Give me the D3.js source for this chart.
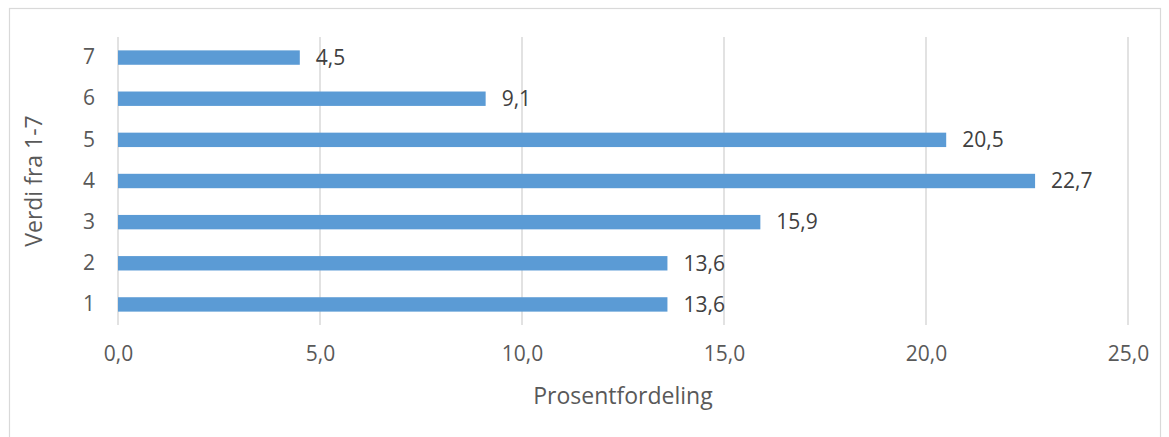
<!DOCTYPE html>
<html>
<head>
<meta charset="utf-8">
<script src="https://cdn.jsdelivr.net/npm/d3@7"></script>
<style>
  body { margin: 0; background: #fff; }
  text { font-family: "Open Sans", sans-serif; }
</style>
</head>
<body>
<div id="graph"></div>
<script>
var categories = ["1", "2", "3", "4", "5", "6", "7"];
var values = [13.6, 13.6, 15.9, 22.7, 20.5, 9.1, 4.5];
var xTicks = [0, 5, 10, 15, 20, 25];
var xTitle = "Prosentfordeling";
var yTitle = "Verdi fra 1-7";

var W = 1169, H = 437;
var margin = { top: 37, right: 41, bottom: 112, left: 118 },
    width = W - margin.left - margin.right,
    height = H - margin.top - margin.bottom;

var fmt = function (v) { return v.toFixed(1).replace(".", ","); };

var root = d3.select("#graph")
    .append("svg")
    .attr("width", W)
    .attr("height", H);

// chart border
root.append("rect")
    .attr("x", 9.5).attr("y", 8.5)
    .attr("width", 1151).attr("height", 440)
    .attr("fill", "none")
    .attr("stroke", "#d9d9d9")
    .attr("stroke-width", 1.2);

var svg = root.append("g")
    .attr("transform", "translate(" + margin.left + "," + margin.top + ")");

var xScale = d3.scaleLinear().domain([0, 25]).range([0, width]);
var yScale = d3.scaleBand().domain(categories.slice().reverse()).range([0, height]).paddingInner(0.65).paddingOuter(0.325);

// gridlines
svg.append("g")
    .selectAll("line")
    .data(xTicks)
    .enter()
    .append("line")
    .attr("x1", function (d) { return xScale(d); })
    .attr("x2", function (d) { return xScale(d); })
    .attr("y1", 0)
    .attr("y2", height)
    .attr("stroke", "#d9d9d9")
    .attr("stroke-width", 1.5);

// x tick labels
var xAxis = d3.axisBottom(xScale).tickValues(xTicks).tickFormat(fmt).tickSize(0).tickPadding(21);
var gx = svg.append("g")
    .attr("class", "xaxis")
    .attr("transform", "translate(0," + height + ")")
    .call(xAxis);
gx.select(".domain").remove();
gx.selectAll("text")
    .style("font-size", "21px")
    .style("font-family", "Open Sans, sans-serif")
    .attr("fill", "#595959");

// y tick labels
var yAxis = d3.axisLeft(yScale).tickSize(0).tickPadding(23);
var gy = svg.append("g")
    .attr("class", "yaxis")
    .call(yAxis);
gy.select(".domain").remove();
gy.selectAll("text")
    .style("font-size", "21px")
    .style("font-family", "Open Sans, sans-serif")
    .attr("fill", "#595959");

// bars
svg.append("g")
    .selectAll("rect")
    .data(categories)
    .enter()
    .append("rect")
    .attr("x", xScale(0))
    .attr("y", function (d) { return yScale(d); })
    .attr("width", function (d, i) { return xScale(values[i]) - xScale(0); })
    .attr("height", yScale.bandwidth())
    .attr("fill", "#5b9bd5");

// data labels
svg.append("g")
    .selectAll("text")
    .data(categories)
    .enter()
    .append("text")
    .attr("x", function (d, i) { return xScale(values[i]) + 16; })
    .attr("y", function (d) { return yScale(d) + yScale.bandwidth() / 2; })
    .attr("dy", "0.35em")
    .style("font-size", "21px")
    .attr("fill", "#404040")
    .text(function (d, i) { return fmt(values[i]); });

// axis titles
svg.append("text")
    .attr("x", width / 2)
    .attr("y", height + 79)
    .style("text-anchor", "middle")
    .style("font-size", "23px")
    .attr("fill", "#595959")
    .text(xTitle);

svg.append("text")
    .attr("transform", "rotate(-90)")
    .attr("x", -height / 2)
    .attr("y", -76)
    .style("text-anchor", "middle")
    .style("font-size", "23px")
    .attr("fill", "#595959")
    .text(yTitle);
</script>
</body>
</html>
